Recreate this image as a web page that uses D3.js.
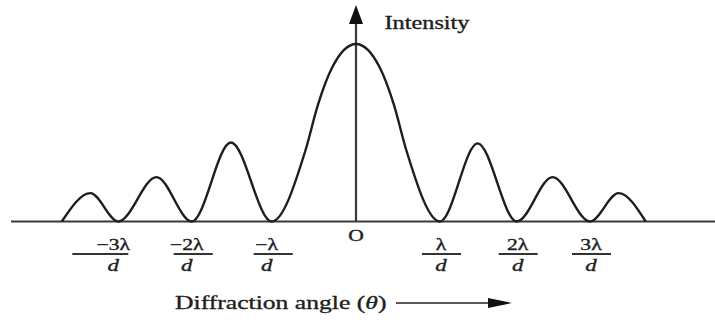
<!DOCTYPE html>
<html>
<head>
<meta charset="utf-8">
<script src="https://cdn.jsdelivr.net/npm/d3@7"></script>
<style>
  body{margin:0;background:#fff;}
  svg text{font-family:"Liberation Serif","DejaVu Serif",serif;fill:#1e1e1e;stroke:#1e1e1e;stroke-width:0.35;}
</style>
</head>
<body>
<div id="graphique"></div>
<script>
// diffraction pattern, x in units of lambda/d
const angle     = [-3.77,-3.38,-3,-2.48,-2,-1.51,-1,
                   -0.6,-0.45,-0.28,0,0.28,0.45,0.6,
                   1,1.49,2,2.49,3,3.39,3.76];
const intensity = [0,0.16,0,0.25,0,0.445,0,
                   0.40,0.66,0.87,1,0.87,0.66,0.40,
                   0,0.44,0,0.25,0,0.16,0];
const tickVals  = [-3,-2,-1,1,2,3];
const tickNum   = ["\u22123\u03bb","\u22122\u03bb","\u2212\u03bb","\u03bb","2\u03bb","3\u03bb"];
const tickDen   = ["d","d","d","d","d","d"];

const width=715, height=322;
const stretch=1.35; // the picture is squashed sideways, text looks wide

const svg=d3.select("#graphique").append("svg")
    .attr("width",width).attr("height",height);

// the drawing is hand made, spacing of minima is not quite even
const x_scale=d3.scaleLinear()
    .domain([-3,-2,-1,0,1,2,3])
    .range([118.3,191.7,271.7,356,440,516.7,590]);
const y_scale=d3.scaleLinear().domain([0,1]).range([221.5,44]);

function label(sel,x,y,size,txt){
    return sel.append("text")
        .attr("transform","translate("+x+","+y+") scale("+stretch+",1)")
        .attr("text-anchor","middle")
        .attr("font-size",size)
        .text(txt);
}

// axes
svg.append("line")
    .attr("x1",11).attr("x2",width)
    .attr("y1",y_scale(0)).attr("y2",y_scale(0))
    .attr("stroke","#3a3a3a").attr("stroke-width",2.2);
svg.append("line")
    .attr("x1",x_scale(0)).attr("x2",x_scale(0))
    .attr("y1",y_scale(0)).attr("y2",20)
    .attr("stroke","#3a3a3a").attr("stroke-width",2.2);
svg.append("path")
    .attr("d","M"+x_scale(0)+",5 L"+(x_scale(0)-7)+",24 L"+(x_scale(0)+7)+",24 Z")
    .attr("fill","#111");

// curve
const pts=angle.map((a,i)=>[a,intensity[i]]);
const line=d3.line()
    .x(d=>x_scale(d[0]))
    .y(d=>y_scale(d[1]))
    .curve(d3.curveMonotoneX);
svg.append("path")
    .datum(pts)
    .attr("d",line)
    .attr("fill","none")
    .attr("stroke","#1e1e1e")
    .attr("stroke-width",2.4);

// labels
label(svg,427,29,18,"Intensity");
label(svg,x_scale(0),241,16,"O");

tickVals.forEach(function(v,i){
    const x=x_scale(v);
    const shift= v<0 ? -5 : 1;
    label(svg,x+shift,250,16,tickNum[i]);
    const left= i===0 ? 46 : 18;
    const right= i===0 ? 10 : 21;
    svg.append("line")
        .attr("x1",x-left).attr("x2",x+right)
        .attr("y1",254).attr("y2",254)
        .attr("stroke","#333").attr("stroke-width",1.8);
    label(svg,x+shift,271,17,tickDen[i]).attr("font-style","italic");
});

// x axis title with arrow
const t=label(svg,175,309,19,"Diffraction angle (").attr("text-anchor","start");
t.append("tspan").attr("font-style","italic").text("\u03b8");
t.append("tspan").text(")");
svg.append("line")
    .attr("x1",396).attr("x2",492)
    .attr("y1",303).attr("y2",303)
    .attr("stroke","#222").attr("stroke-width",1.6);
svg.append("path")
    .attr("d","M512,303 L488,298 L488,308 Z")
    .attr("fill","#111");
</script>
</body>
</html>
